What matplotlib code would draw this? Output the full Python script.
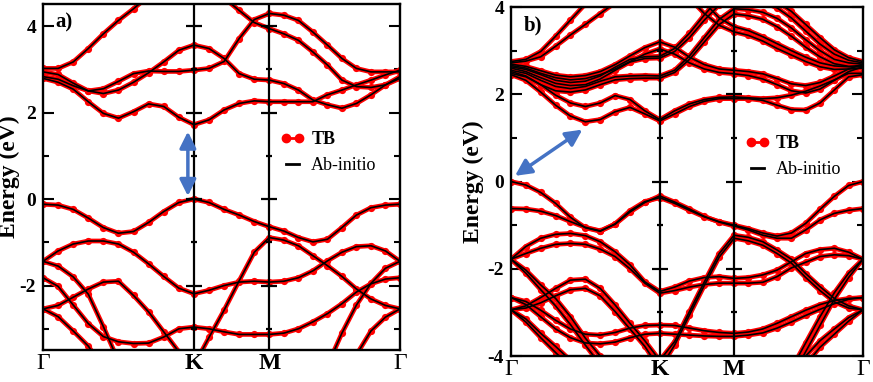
import numpy as np
import matplotlib
matplotlib.use('Agg')
import matplotlib.pyplot as plt
from matplotlib.lines import Line2D

plt.rcParams['font.family'] = ['Liberation Serif', 'DejaVu Serif']
plt.rcParams['axes.unicode_minus'] = False

# k-path  Gamma-K (1.0) , K-M (0.5) , M-Gamma (0.866)
k = np.concatenate([np.linspace(0, 1, 11), np.linspace(1.1, 1.5, 5),
                    1.5 + np.linspace(0.866 / 9, 0.866, 9)])
kticks = [0, 1, 1.5, 2.366]
klabels = ['Γ', 'K', 'M', 'Γ']

# ---- panel a) bands (eV) ----
a_c1 = [2.79, 2.70, 2.54, 2.25, 1.98, 1.87, 2.02, 2.20, 2.14, 1.89, 1.72, 1.83, 2.06, 2.21, 2.27, 2.25,
        2.25, 2.25, 2.25, 2.41, 2.52, 2.64, 2.75, 2.87, 2.98]
a_c2 = [2.83, 2.77, 2.62, 2.50, 2.55, 2.72, 2.90, 2.96, 2.95, 2.95, 2.98, 3.02, 3.18, 3.71, 4.15, 4.29,
        4.25, 4.13, 3.86, 3.56, 3.25, 3.02, 2.94, 2.94, 2.94]
a_c3 = [2.94, 2.88, 2.68, 2.50, 2.44, 2.52, 2.70, 2.92, 3.17, 3.44, 3.56, 3.48, 3.25, 2.90, 2.77, 2.75,
        2.67, 2.52, 2.29, 2.18, 2.10, 2.21, 2.41, 2.64, 2.79]
a_c4 = [3.02, 3.02, 3.17, 3.48, 3.82, 4.13, 4.40, 4.70, 4.90, 5.00, 5.00, 4.90, 4.65, 4.36, 4.08, 3.94,
        3.82, 3.67, 3.40, 3.10, 2.75, 2.60, 2.58, 2.64, 2.83]
a_v1 = [-0.12, -0.14, -0.24, -0.44, -0.66, -0.79, -0.75, -0.54, -0.29, -0.08, 0.00, -0.08, -0.24, -0.37, -0.52, -0.64,
        -0.74, -0.89, -0.99, -0.93, -0.66, -0.37, -0.20, -0.14, -0.12]
a_v2 = [-1.44, -1.20, -1.04, -0.97, -0.97, -1.04, -1.23, -1.50, -1.79, -2.06, -2.19, -2.11, -2.00, -1.92, -1.90, -1.92,
        -1.90, -1.82, -1.66, -1.43, -1.23, -1.10, -1.08, -1.20, -1.44]
a_vp = [-2.54, -2.46, -2.27, -2.08, -1.92, -1.90, -2.23, -2.61, -3.07, -3.53, -3.85, -3.20, -2.57, -1.89, -1.23, -0.89,
        -0.95, -1.08, -1.31, -1.54, -1.79, -2.08, -2.31, -2.46, -2.54]
a_vt = [-1.82, -2.02, -2.45, -2.88, -3.18, -3.30, -3.34, -3.33, -3.19, -3.00, -2.96, -3.00, -3.07, -3.13, -3.13, -3.13,
        -3.10, -3.00, -2.84, -2.65, -2.42, -2.15, -1.96, -1.85, -1.82]
a_vd1 = [-1.44, -1.55, -1.80, -2.20, -2.95, -3.75, -4.30, -4.60, -4.80, -4.90, -5.00, -5.0, -5.0, -5.0, -5.0, -5.0,
         -5.0, -5.0, -4.70, -3.85, -3.10, -2.45, -1.95, -1.60, -1.44]
a_vd2 = [-2.54, -2.72, -3.05, -3.40, -3.90, -4.30, -4.60, -4.80, -5.0, -5.0, -5.0, -5.0, -5.0, -5.0, -5.0, -5.0,
         -5.0, -5.0, -5.0, -5.0, -4.30, -3.60, -3.05, -2.73, -2.54]

# ---- panel b) bands (eV) ----
b_l1 = [2.45, 2.32, 2.05, 1.75, 1.50, 1.37, 1.42, 1.60, 1.70, 1.55, 1.39, 1.55, 1.72, 1.84, 1.90, 1.90,
        1.90, 1.86, 1.75, 1.65, 1.64, 1.80, 2.10, 2.40, 2.45]
b_l2 = [2.48, 2.40, 2.22, 1.98, 1.80, 1.72, 1.80, 1.97, 1.88, 1.62, 1.42, 1.62, 1.78, 1.88, 1.93, 1.94,
        1.92, 1.90, 1.92, 1.98, 2.07, 2.19, 2.33, 2.48, 2.48]
b_b1 = [2.52, 2.42, 2.22, 2.08, 2.05, 2.10, 2.22, 2.33, 2.36, 2.37, 2.37, 2.50, 2.80, 3.20, 3.60, 3.84,
        3.80, 3.72, 3.55, 3.33, 3.08, 2.86, 2.70, 2.64, 2.66]
b_b2 = [2.55, 2.48, 2.32, 2.18, 2.13, 2.18, 2.30, 2.40, 2.42, 2.43, 2.42, 2.55, 2.88, 3.30, 3.72, 3.96,
        3.94, 3.88, 3.74, 3.52, 3.25, 3.00, 2.80, 2.72, 2.69]
b_c1 = [2.60, 2.52, 2.38, 2.25, 2.20, 2.22, 2.35, 2.55, 2.74, 2.82, 2.83, 2.98, 3.30, 3.70, 4.05, 4.25,
        4.20, 4.12, 3.98, 3.75, 3.45, 3.15, 2.92, 2.78, 2.72]
b_c2 = [2.63, 2.57, 2.45, 2.32, 2.27, 2.30, 2.42, 2.62, 2.80, 2.86, 2.87, 3.05, 3.40, 3.82, 4.20, 4.40,
        4.35, 4.28, 4.12, 3.90, 3.60, 3.30, 3.02, 2.84, 2.75]
b_d1 = [2.66, 2.60, 2.48, 2.38, 2.33, 2.36, 2.45, 2.58, 2.75, 2.92, 3.04, 2.92, 2.72, 2.58, 2.50, 2.47,
        2.43, 2.35, 2.22, 2.08, 2.03, 2.12, 2.32, 2.52, 2.63]
b_d2 = [2.69, 2.64, 2.54, 2.44, 2.40, 2.43, 2.52, 2.68, 2.88, 3.07, 3.20, 3.08, 2.85, 2.68, 2.58, 2.55,
        2.52, 2.47, 2.36, 2.24, 2.20, 2.27, 2.42, 2.58, 2.69]
b_e1 = [2.72, 2.76, 2.86, 3.10, 3.36, 3.60, 3.85, 4.10, 4.35, 4.60, 4.80, 4.60, 4.20, 3.85, 3.58, 3.43,
        3.35, 3.22, 3.05, 2.90, 2.75, 2.63, 2.57, 2.58, 2.60]
b_e2 = [2.75, 2.80, 2.98, 3.33, 3.70, 4.07, 4.45, 4.80, 5.00, 5.10, 5.10, 4.90, 4.50, 4.10, 3.75, 3.55,
        3.46, 3.32, 3.16, 3.00, 2.85, 2.72, 2.65, 2.63, 2.63]
b_v1a = [0.00, -0.08, -0.25, -0.50, -0.82, -1.06, -1.14, -0.97, -0.67, -0.46, -0.37, -0.50, -0.66, -0.81, -0.92, -1.00,
         -1.08, -1.18, -1.25, -1.18, -0.96, -0.64, -0.34, -0.09, 0.00]
b_v1b = [-0.62, -0.63, -0.68, -0.78, -0.92, -1.05, -1.13, -0.98, -0.70, -0.48, -0.33, -0.47, -0.63, -0.80, -0.93, -1.02,
         -1.11, -1.23, -1.30, -1.30, -1.11, -0.88, -0.73, -0.66, -0.62]
b_v2a = [-1.78, -1.49, -1.30, -1.21, -1.19, -1.24, -1.38, -1.61, -1.91, -2.30, -2.52, -2.42, -2.28, -2.20, -2.18, -2.22,
         -2.20, -2.14, -2.03, -1.84, -1.65, -1.56, -1.53, -1.62, -1.78]
b_v2b = [-1.78, -1.65, -1.53, -1.44, -1.42, -1.44, -1.55, -1.72, -2.00, -2.33, -2.56, -2.50, -2.42, -2.36, -2.33, -2.33,
         -2.33, -2.31, -2.18, -1.98, -1.85, -1.72, -1.68, -1.70, -1.78]
b_vd1a = [-1.78, -2.03, -2.37, -2.68, -3.10, -3.59, -4.00, -4.40, -4.60, -4.70, -4.80, -5.0, -5.0, -5.0, -5.0, -5.0,
          -5.0, -5.0, -4.80, -4.30, -3.70, -3.10, -2.55, -2.10, -1.78]
b_vd1b = [-1.78, -2.10, -2.48, -2.85, -3.28, -3.75, -4.20, -4.50, -4.70, -4.80, -4.90, -5.0, -5.0, -5.0, -5.0, -5.0,
          -5.0, -5.0, -5.0, -4.50, -3.90, -3.30, -2.70, -2.20, -1.78]
b_vta = [-2.66, -2.75, -2.95, -3.18, -3.38, -3.50, -3.52, -3.46, -3.36, -3.30, -3.29, -3.30, -3.36, -3.42, -3.46, -3.48,
         -3.45, -3.38, -3.25, -3.10, -2.95, -2.82, -2.73, -2.68, -2.66]
b_vtb = [-2.66, -2.82, -3.10, -3.38, -3.58, -3.70, -3.72, -3.68, -3.58, -3.50, -3.48, -3.50, -3.52, -3.54, -3.55, -3.55,
         -3.52, -3.47, -3.36, -3.22, -3.07, -2.93, -2.80, -2.70, -2.66]
b_vpa = [-2.94, -2.85, -2.66, -2.45, -2.26, -2.24, -2.45, -2.83, -3.25, -3.65, -4.10, -3.67, -2.98, -2.30, -1.65, -1.23,
         -1.28, -1.38, -1.57, -1.78, -2.11, -2.41, -2.68, -2.85, -2.94]
b_vpb = [-2.94, -2.90, -2.78, -2.62, -2.48, -2.45, -2.62, -2.98, -3.38, -3.78, -4.30, -3.75, -3.06, -2.38, -1.73, -1.30,
         -1.36, -1.46, -1.65, -1.87, -2.20, -2.50, -2.76, -2.90, -2.94]
b_vd2a = [-2.94, -3.15, -3.48, -3.78, -4.10, -4.40, -4.60, -4.80, -5.0, -5.0, -5.0, -5.0, -5.0, -5.0, -5.0, -5.0,
          -5.0, -5.0, -5.0, -4.60, -4.00, -3.65, -3.38, -3.12, -2.94]
b_vd2b = [-2.94, -3.22, -3.58, -3.92, -4.25, -4.50, -4.70, -4.90, -5.0, -5.0, -5.0, -5.0, -5.0, -5.0, -5.0, -5.0,
          -5.0, -5.0, -5.0, -4.80, -4.20, -3.80, -3.50, -3.20, -2.94]

bands_a = [a_c1, a_c2, a_c3, a_c4, a_v1, a_v2, a_vp, a_vt, a_vd1, a_vd2]
bands_b = [b_l1, b_l2, b_b1, b_b2, b_c1, b_c2, b_d1, b_d2, b_e1, b_e2,
           b_v1a, b_v1b, b_v2a, b_v2b, b_vd1a, b_vd1b, b_vta, b_vtb, b_vpa, b_vpb, b_vd2a, b_vd2b]

# gap arrows (k, E) tail -> head
arrow_a = [(0.96, 0.07), (0.96, 1.56)]
arrow_b = [(0.027, 0.13), (0.48, 1.19)]


def panel(ax, bands, ylim, tag, arrow, label_xy):
    for e in bands:
        ax.plot(k, e, color='red', lw=3.4, marker='o', ms=5.2, mew=0, zorder=2)
        ax.plot(k, e, color='black', lw=1.2, zorder=3)
    lo, hi = ylim
    maj = [t for t in range(-6, 7) if t % 2 == 0 and lo <= t <= hi]
    mnr = [t for t in range(-6, 7) if t % 2 != 0 and lo < t < hi]
    inner = [t for t in maj if lo < t < hi]
    for kk in kticks[1:3]:
        ax.axvline(kk, color='black', lw=1.6, zorder=4)
        ax.plot([kk] * len(inner), inner, ls='none', marker='_', ms=11, mew=1.6, color='black', zorder=4)
        ax.plot([kk] * len(mnr), mnr, ls='none', marker='_', ms=5, mew=1.6, color='black', zorder=4)

    ax.annotate('', xy=arrow[1], xytext=arrow[0],
                arrowprops=dict(arrowstyle='<|-|>,head_length=0.7,head_width=0.35',
                                color='#4472C4', lw=2.5, mutation_scale=14, shrinkA=0, shrinkB=0),
                zorder=6)

    ax.set_xlim(0, kticks[-1])
    ax.set_ylim(lo, hi)
    ax.set_xticks(kticks)
    ax.set_xticklabels(klabels, fontsize=17)
    for t, lab in zip(ax.get_xticklabels(), klabels):
        t.set_fontweight('normal' if lab == 'Γ' else 'bold')
    ax.tick_params(axis='x', length=0, pad=2)
    ax.set_yticks(maj)
    ax.set_yticks(mnr, minor=True)
    ax.tick_params(axis='y', which='both', direction='in', left=True, right=True, width=1.5,
                   labelsize=14, pad=5)
    ax.tick_params(axis='y', which='major', length=8)
    ax.tick_params(axis='y', which='minor', length=4)
    for t in ax.get_yticklabels():
        t.set_fontweight('bold')
    for s in ax.spines.values():
        s.set_linewidth(1.7)
    ax.set_ylabel('Energy (eV)', fontsize=17, fontweight='bold')
    ax.yaxis.set_label_coords(*label_xy)
    ax.text(0.035, 0.975, tag, transform=ax.transAxes, va='top', ha='left',
            fontsize=15, fontweight='bold')

    handles = [Line2D([], [], color='red', lw=2, marker='o', ms=6),
               Line2D([], [], color='black', lw=2)]
    leg = ax.legend(handles, ['TB', 'Ab-initio'], loc='upper left', bbox_to_anchor=(0.62, 0.68),
                    frameon=False, fontsize=13, handlelength=1.3, numpoints=2,
                    handletextpad=0.4, labelspacing=0.5)
    leg.get_texts()[0].set_fontweight('bold')


fig = plt.figure(figsize=(8.73, 3.82), dpi=100)
ax_a = fig.add_axes([0.0493, 0.0838, 0.4089, 0.9058])
ax_b = fig.add_axes([0.5853, 0.0680, 0.4032, 0.9136])

panel(ax_a, bands_a, (-3.49, 4.51), 'a)', arrow_a, (-0.064, 0.5))
panel(ax_b, bands_b, (-4.0, 4.0), 'b)', arrow_b, (-0.078, 0.5))

fig.savefig('out.png', dpi=100)
